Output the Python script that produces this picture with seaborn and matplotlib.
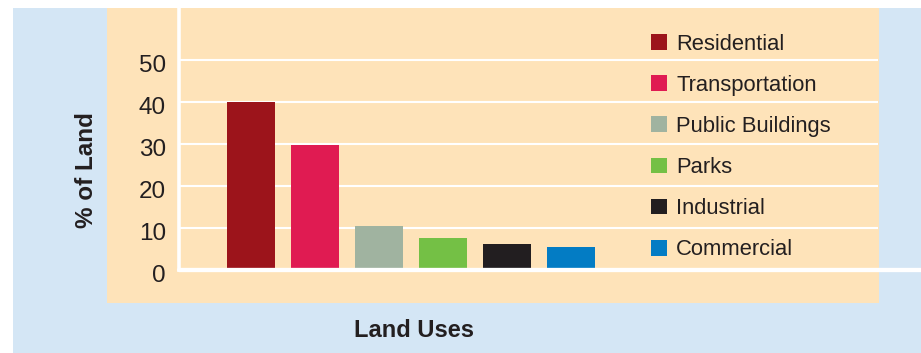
import matplotlib
matplotlib.use("Agg")
import matplotlib.pyplot as plt
from matplotlib.patches import Rectangle, Patch
from matplotlib.transforms import ScaledTranslation
import seaborn as sns
import pandas as pd

categories = ["Residential", "Transportation", "Public Buildings", "Parks", "Industrial", "Commercial"]
values = [40, 29.6, 10.4, 7.5, 6.1, 5.4]
colors = ["#9c141b", "#e01b52", "#a0b3a0", "#74c045", "#221e20", "#037cc4"]
yticks = [0, 10, 20, 30, 40, 50]
ylabel = "% of Land"
xlabel = "Land Uses"

df = pd.DataFrame({"use": categories, "pct": values})

sns.set_theme(style="white")
plt.rcParams["font.family"] = ["Liberation Sans", "DejaVu Sans"]

W, H = 921, 353
fig = plt.figure(figsize=(W / 100, H / 100), dpi=100, facecolor="white")

BLUE = "#d4e6f5"
PEACH = "#fee3b9"
TXT = "#231f20"

# backgrounds
fig.patches.append(Rectangle((13 / W, 0), (W - 13) / W, (H - 8) / H,
                             transform=fig.transFigure, facecolor=BLUE, edgecolor="none", zorder=-10))
fig.patches.append(Rectangle((107 / W, 50 / H), (879 - 107) / W, (303 - 8) / H,
                             transform=fig.transFigure, facecolor=PEACH, edgecolor="none", zorder=-9))

ax_l, ax_r, ax_t, ax_b = 178.5, 878, 8, 269.5
ax = fig.add_axes([ax_l / W, (H - ax_b) / H, (ax_r - ax_l) / W, (ax_b - ax_t) / H])
ax.set_facecolor("none")

palette = dict(zip(categories, colors))
sns.barplot(data=df, x="use", y="pct", hue="use", palette=palette, order=categories,
            hue_order=categories, width=0.75, saturation=1, legend=False, ax=ax, zorder=2,
            linewidth=0, edgecolor="none")

ppu = (ax_b - 60) / 50.0
ax.set_ylim(0, (ax_b - ax_t) / ppu)
ax.set_xlim(-(251 - ax_l) / 64, (ax_r - 251) / 64)

ax.set_yticks(yticks)
ax.set_yticklabels([str(t) for t in yticks], fontsize=17.5, color=TXT)
ax.tick_params(axis="y", length=0, pad=9)
ax.tick_params(axis="x", length=0, labelbottom=False)
for lab in ax.get_yticklabels():
    lab.set_transform(lab.get_transform() + ScaledTranslation(0, -0.04, fig.dpi_scale_trans))
ax.set_xlabel("")
ax.set_ylabel("")

# grid lines
for t in yticks[1:]:
    ax.axhline(t, color="white", lw=1.5, zorder=1)
ax.axhline(0, xmin=0, xmax=(W - ax_l + 1) / (ax_r - ax_l), color="white", lw=3.1,
           clip_on=False, zorder=5)

for s in ["top", "right", "bottom"]:
    ax.spines[s].set_visible(False)
ax.spines["left"].set_color("white")
ax.spines["left"].set_linewidth(2.6)
ax.spines["left"].set_zorder(5)

# legend
fs = 15.8
handles = [Patch(facecolor=c, edgecolor="none", label=n) for n, c in zip(categories, colors)]
leg = ax.legend(handles=handles, loc="upper left", bbox_to_anchor=(651 / W, 1 - 33.5 / H),
                bbox_transform=fig.transFigure, frameon=False, fontsize=fs,
                handlelength=16 / (fs * 100 / 72), handleheight=16 / (fs * 100 / 72),
                handletextpad=0.42, labelspacing=0.92, borderpad=0, borderaxespad=0)
for t in leg.get_texts():
    t.set_color(TXT)

fig.text(86 / W, 1 - 170 / H, ylabel, rotation=90, ha="center", va="center",
         fontsize=17.5, fontweight="bold", color=TXT)
fig.text(413.5 / W, 1 - 330.5 / H, xlabel, ha="center", va="center",
         fontsize=17, fontweight="bold", color=TXT)

fig.savefig("out.png", dpi=100, facecolor="white")
